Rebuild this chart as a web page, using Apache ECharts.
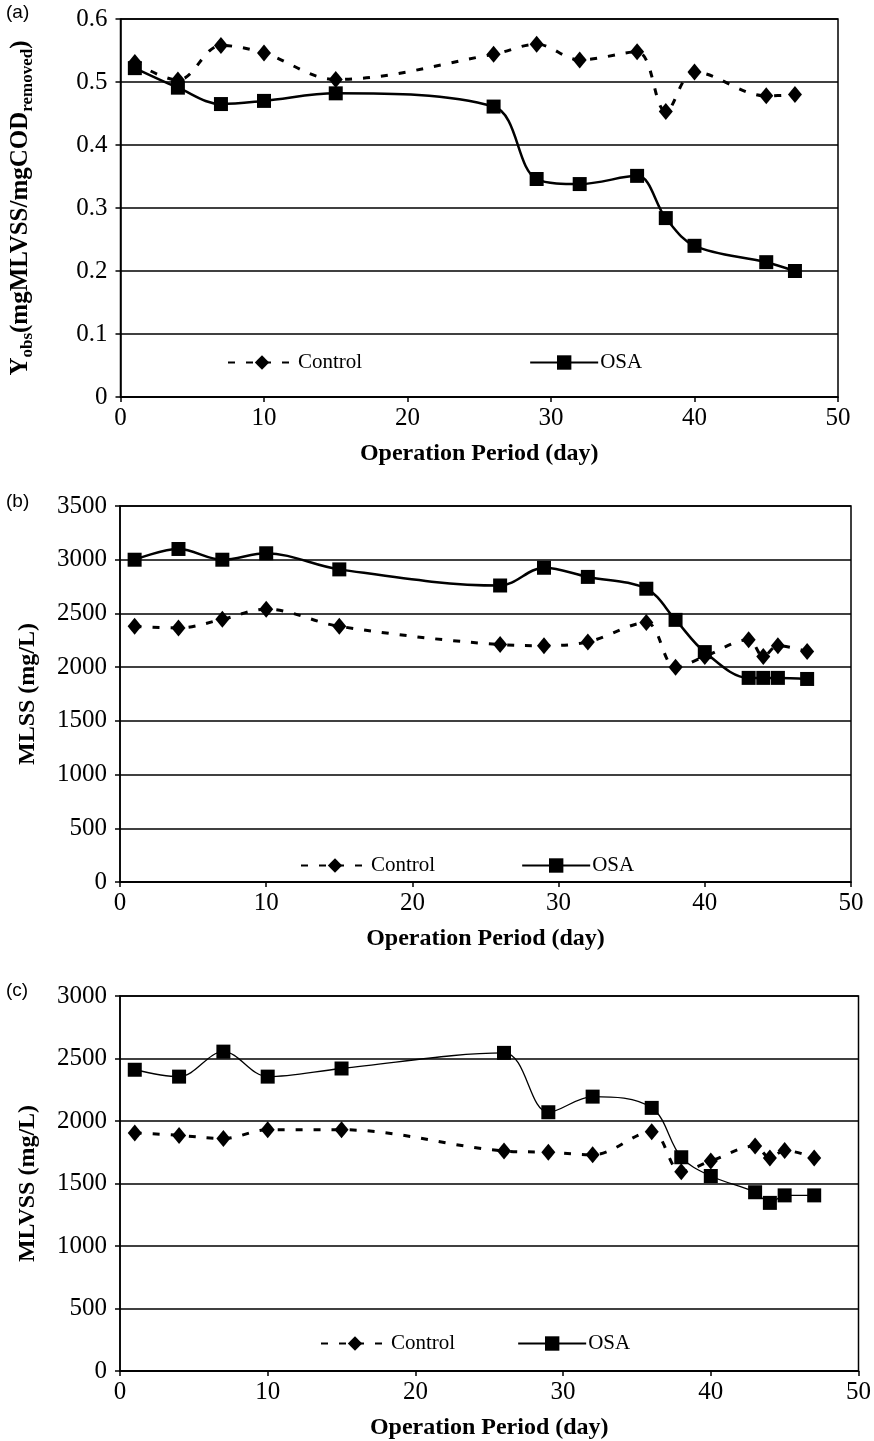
<!DOCTYPE html>
<html>
<head>
<meta charset="utf-8">
<style>html,body{margin:0;padding:0;background:#fff;}#chart{width:874px;height:1441px;}</style>
<script src="https://cdn.jsdelivr.net/npm/echarts@6/dist/echarts.min.js"></script>
</head>
<body>
<div id="chart"></div>
<script>
// ---- data ----
const daysA = [1, 4, 7, 10, 15, 26, 29, 32, 36, 38, 40, 45, 47];
const controlA = [0.531, 0.503, 0.558, 0.546, 0.504, 0.544, 0.560, 0.535, 0.548, 0.453, 0.516, 0.478, 0.480];
const osaA = [0.522, 0.491, 0.465, 0.470, 0.482, 0.461, 0.346, 0.338, 0.351, 0.284, 0.240, 0.214, 0.200];

const daysBC = [1, 4, 7, 10, 15, 26, 29, 32, 36, 38, 40, 43, 44, 45, 47];
const controlB = [2380, 2365, 2445, 2540, 2380, 2210, 2200, 2235, 2415, 2000, 2100, 2255, 2100, 2200, 2145];
const osaB = [3000, 3100, 3000, 3060, 2910, 2760, 2925, 2840, 2730, 2440, 2140, 1900, 1900, 1900, 1890];
const controlC = [1905, 1885, 1860, 1930, 1930, 1760, 1750, 1730, 1915, 1595, 1680, 1800, 1705, 1765, 1705];
const osaC = [2410, 2355, 2555, 2355, 2420, 2545, 2070, 2195, 2105, 1710, 1560, 1430, 1345, 1405, 1405];

const xTicks = [0, 10, 20, 30, 40, 50];
const yTicksA = [0, 0.1, 0.2, 0.3, 0.4, 0.5, 0.6];
const yTicksB = [0, 500, 1000, 1500, 2000, 2500, 3000, 3500];
const yTicksC = [0, 500, 1000, 1500, 2000, 2500, 3000];

const xTitle = 'Operation Period (day)';
const panelLabels = ['(a)', '(b)', '(c)'];

// ---- helpers ----
const pair = (xs, ys) => xs.map((x, i) => [x, ys[i]]);
const SERIF = '"Liberation Serif", "DejaVu Serif", serif';

const grids = [
  {left: 120, top: 19, width: 718, height: 378},
  {left: 120, top: 506, width: 731, height: 376},
  {left: 120, top: 996, width: 739, height: 376}
].map(g => Object.assign(g, {show: true, borderColor: '#000', borderWidth: 1.5, backgroundColor: 'transparent'}));

function xAxis(i) {
  return {
    type: 'value', gridIndex: i, min: xTicks[0], max: xTicks[xTicks.length - 1],
    interval: xTicks[1] - xTicks[0],
    name: xTitle, nameLocation: 'middle', nameGap: 45,
    nameTextStyle: {fontFamily: SERIF, fontSize: 24, fontWeight: 'bold', color: '#000'},
    axisLine: {lineStyle: {color: '#000', width: 1.5}},
    axisTick: {show: true, length: 5, lineStyle: {color: '#000', width: 1.5}},
    axisLabel: {fontFamily: SERIF, fontSize: 25, color: '#000', margin: 9},
    splitLine: {show: false}
  };
}
function yAxis(i, ticks, name, gap, fs, rich) {
  const ax = {
    type: 'value', gridIndex: i, min: ticks[0], max: ticks[ticks.length - 1],
    interval: ticks[1] - ticks[0],
    name: name, nameLocation: 'middle', nameGap: gap, nameRotate: 90,
    nameTextStyle: {fontFamily: SERIF, fontSize: fs, fontWeight: 'bold', color: '#000'},
    axisLine: {show: true, lineStyle: {color: '#000', width: 1.5}},
    axisTick: {show: true, length: 5, lineStyle: {color: '#000', width: 1.5}},
    axisLabel: {fontFamily: SERIF, fontSize: 25, color: '#000', margin: 13, formatter: v => String(v)},
    splitLine: {show: true, lineStyle: {color: '#000', width: 1.5}}
  };
  if (rich) ax.nameTextStyle.rich = rich;
  return ax;
}

function ctrlSeries(i, tag, data) {
  return {
    name: 'Control_' + tag, type: 'line', xAxisIndex: i, yAxisIndex: i,
    data: data, smooth: 0.35, symbol: 'diamond', symbolSize: [14, 17],
    itemStyle: {color: '#000'},
    lineStyle: {color: '#000', width: 3, type: [7, 11]}, z: 3
  };
}
function osaSeries(i, tag, data, w) {
  return {
    name: 'OSA_' + tag, type: 'line', xAxisIndex: i, yAxisIndex: i,
    data: data, smooth: 0.35, symbol: 'rect', symbolSize: 14,
    itemStyle: {color: '#000'},
    lineStyle: {color: '#000', width: w, type: 'solid'}, z: 4
  };
}
function legend(tag, left, top, gap) {
  return {
    data: ['Control_' + tag, 'OSA_' + tag], left: left, top: top,
    itemWidth: 68, itemHeight: 18, itemGap: gap, selectedMode: false,
    formatter: n => n.split('_')[0],
    textStyle: {fontFamily: SERIF, fontSize: 21, color: '#000', padding: [0, 0, 0, -3]}
  };
}

const richA = {
  b: {fontFamily: SERIF, fontSize: 25, fontWeight: 'bold', color: '#000', lineHeight: 32, verticalAlign: 'middle'},
  s: {fontFamily: SERIF, fontSize: 17, fontWeight: 'bold', color: '#000', lineHeight: 17, verticalAlign: 'bottom'}
};

const option = {
  animation: false,
  backgroundColor: '#fff',
  grid: grids,
  xAxis: [xAxis(0), xAxis(1), xAxis(2)],
  yAxis: [
    yAxis(0, yTicksA, '{b|Y}{s|obs}{b|(mgMLVSS/mgCOD}{s|removed}{b|)}', 84, 25, richA),
    yAxis(1, yTicksB, 'MLSS (mg/L)', 80, 24),
    yAxis(2, yTicksC, 'MLVSS (mg/L)', 80, 24)
  ],
  legend: [legend('a', 222, 347, 167), legend('b', 295, 850, 86), legend('c', 315, 1328, 62)],
  graphic: panelLabels.map((t, i) => ({
    type: 'text', left: 6, top: [3, 492, 981][i],
    style: {text: t, fontFamily: '"Liberation Sans", Arial, sans-serif', fontSize: 19, fill: '#000'}
  })),
  series: [
    ctrlSeries(0, 'a', pair(daysA, controlA)),
    osaSeries(0, 'a', pair(daysA, osaA), 2.5),
    ctrlSeries(1, 'b', pair(daysBC, controlB)),
    osaSeries(1, 'b', pair(daysBC, osaB), 2.5),
    ctrlSeries(2, 'c', pair(daysBC, controlC)),
    osaSeries(2, 'c', pair(daysBC, osaC), 1.3)
  ]
};

echarts.init(document.getElementById('chart'), null, {renderer: 'canvas'}).setOption(option);
</script>
</body>
</html>
